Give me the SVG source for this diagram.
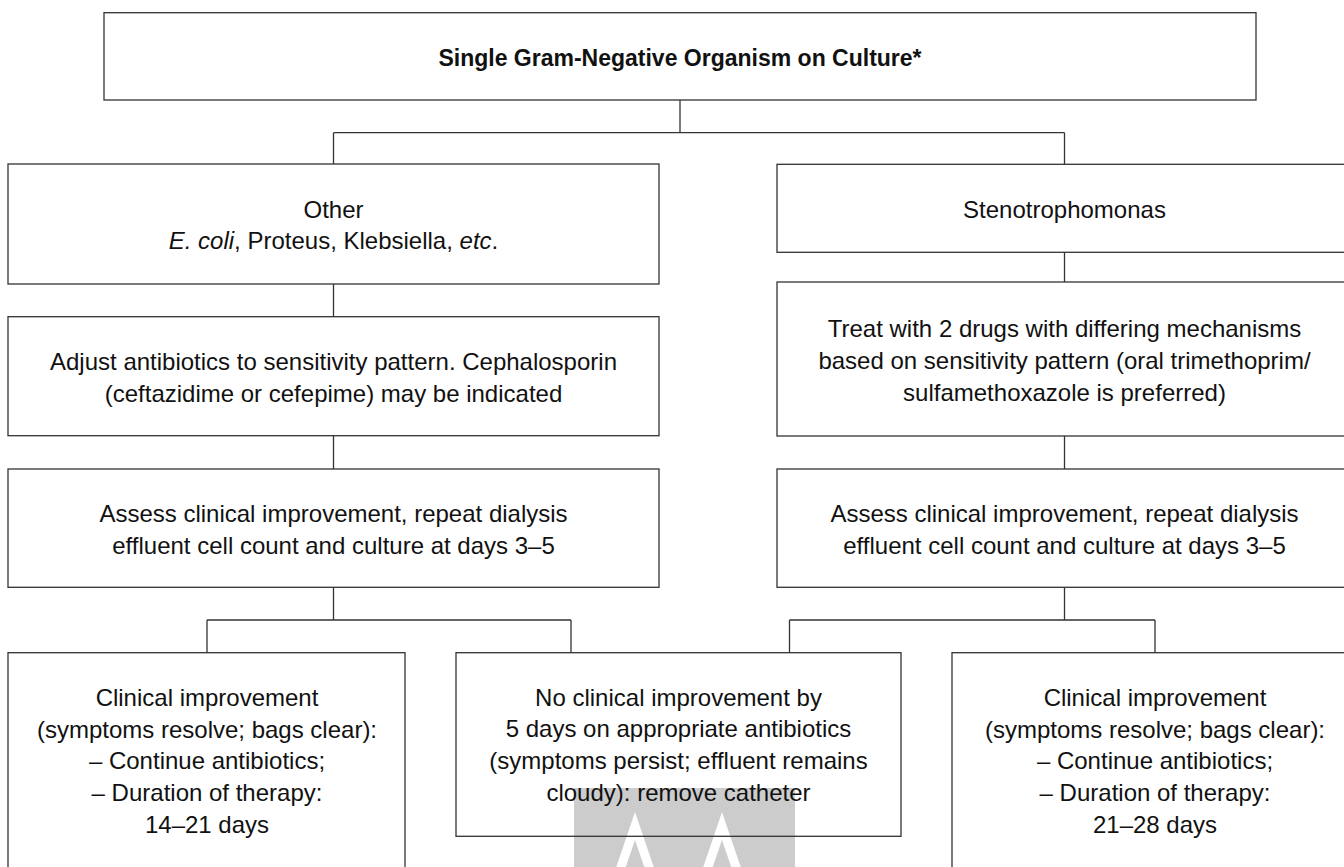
<svg xmlns="http://www.w3.org/2000/svg" width="1344" height="867" viewBox="0 0 1344 867">
<style>
.box{fill:none;stroke:#333;stroke-width:1.3}
.con{fill:none;stroke:#333;stroke-width:1.3}
text{font-family:"Liberation Sans",Arial,sans-serif;font-size:24px;fill:#111;text-anchor:middle}
.title{font-weight:bold;font-size:23px}
.it{font-style:italic}
</style>
<rect x="0" y="0" width="1344" height="867" fill="#fff"/>
<g id="watermark">
<rect x="574" y="788" width="221" height="80" fill="#cccccc"/>
<polyline points="620,870 635,826 650,870" fill="none" stroke="#fff" stroke-width="9" stroke-linejoin="miter"/>
<polyline points="707,870 722,826 737,870" fill="none" stroke="#fff" stroke-width="9" stroke-linejoin="miter"/>
</g>
<g id="connectors">
<path class="con" d="M680,100 V132.7 M333.5,132.7 H1064.5 M333.5,132.7 V164 M1064.5,132.7 V164.3"/>
<path class="con" d="M333.5,284 V316.7 M333.5,435.7 V469 M333.5,587.3 V620 M207,620 H571 M207,620 V652.7 M571,620 V652.7"/>
<path class="con" d="M1064.5,252.3 V282 M1064.5,436 V469 M1064.5,587.3 V620 M789.5,620 H1155 M789.5,620 V652.7 M1155,620 V652.7"/>
</g>
<g id="n-top">
<rect class="box" x="104" y="12.7" width="1152" height="87.3"/>
<text class="title" x="680" y="66">Single Gram-Negative Organism on Culture*</text>
</g>
<g id="n-other">
<rect class="box" x="8" y="164" width="651" height="120"/>
<text x="333.5" y="217.6">Other</text>
<text x="333.5" y="249.3"><tspan class="it">E. coli</tspan>, Proteus, Klebsiella, <tspan class="it">etc</tspan>.</text>
</g>
<g id="n-steno">
<rect class="box" x="777" y="164.3" width="575" height="88"/>
<text x="1064.5" y="217.8">Stenotrophomonas</text>
</g>
<g id="n-adjust">
<rect class="box" x="8" y="316.7" width="651" height="119"/>
<text x="333.5" y="369.9">Adjust antibiotics to sensitivity pattern. Cephalosporin</text>
<text x="333.5" y="401.5">(ceftazidime or cefepime) may be indicated</text>
</g>
<g id="n-treat">
<rect class="box" x="777" y="282" width="575" height="154"/>
<text x="1064.5" y="337.1">Treat with 2 drugs with differing mechanisms</text>
<text x="1064.5" y="368.8">based on sensitivity pattern (oral trimethoprim/</text>
<text x="1064.5" y="400.5">sulfamethoxazole is preferred)</text>
</g>
<g id="n-assess-left">
<rect class="box" x="8" y="469" width="651" height="118.3"/>
<text x="333.5" y="521.8">Assess clinical improvement, repeat dialysis</text>
<text x="333.5" y="553.5">effluent cell count and culture at days 3–5</text>
</g>
<g id="n-assess-right">
<rect class="box" x="777" y="469" width="575" height="118.3"/>
<text x="1064.5" y="521.8">Assess clinical improvement, repeat dialysis</text>
<text x="1064.5" y="553.5">effluent cell count and culture at days 3–5</text>
</g>
<g id="n-improve-left">
<rect class="box" x="8" y="652.7" width="397" height="220"/>
<text x="207" y="705.8">Clinical improvement</text>
<text x="207" y="737.5">(symptoms resolve; bags clear):</text>
<text x="207" y="769.2">– Continue antibiotics;</text>
<text x="207" y="800.9">– Duration of therapy:</text>
<text x="207" y="832.6">14–21 days</text>
</g>
<g id="n-noimprove">
<rect class="box" x="456" y="652.7" width="445" height="183.6"/>
<text x="678.5" y="705.5">No clinical improvement by</text>
<text x="678.5" y="737.2">5 days on appropriate antibiotics</text>
<text x="678.5" y="768.9">(symptoms persist; effluent remains</text>
<text x="678.5" y="800.6">cloudy): remove catheter</text>
</g>
<g id="n-improve-right">
<rect class="box" x="952" y="652.7" width="406" height="220"/>
<text x="1155" y="705.8">Clinical improvement</text>
<text x="1155" y="737.5">(symptoms resolve; bags clear):</text>
<text x="1155" y="769.2">– Continue antibiotics;</text>
<text x="1155" y="800.9">– Duration of therapy:</text>
<text x="1155" y="832.6">21–28 days</text>
</g>
</svg>
